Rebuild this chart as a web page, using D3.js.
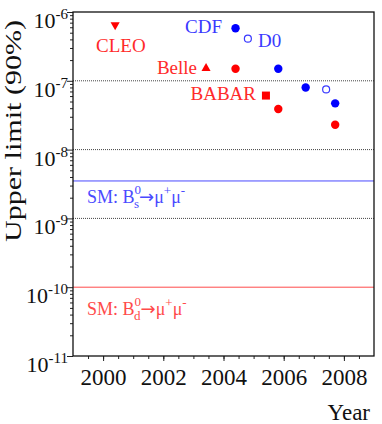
<!DOCTYPE html>
<html>
<head>
<meta charset="utf-8">
<style>
  body { margin: 0; background: #fff; }
  text { font-family: "Liberation Serif", "Times New Roman", serif; }
</style>
</head>
<body>
<svg id="chart" width="382" height="424"></svg>
<script src="https://d3js.org/d3.v7.min.js"></script>
<script>

// upper limits (90% CL)
var cdfBsYears = [2004.4, 2005.82, 2006.73, 2007.71];
var cdfBsLimits = [5.8e-7, 1.5e-7, 8.0e-8, 4.7e-8];
var d0Years = [2004.81, 2007.41];
var d0Limits = [4.1e-7, 7.5e-8];
var cdfBdYears = [2004.4, 2005.82, 2007.71];
var cdfBdLimits = [1.5e-7, 3.9e-8, 2.3e-8];
var cleoYear = [2000.4], cleoLimit = [6.5e-7];
var belleYear = [2003.42], belleLimit = [1.52e-7];
var babarYear = [2005.41], babarLimit = [6.1e-8];

var smBs = 3.5e-9, smBd = 1e-10;
var yearTicks = [2000, 2002, 2004, 2006, 2008];
var decadeTicks = [1e-11, 1e-10, 1e-9, 1e-8, 1e-7, 1e-6];
var gridDecades = [1e-9, 1e-8, 1e-7];

var svg = d3.select("#chart"),
    mLeft = 73, mRight = 374, mTop = 12, mBottom = 356;

var x = d3.scaleLinear().domain([1999, 2009]).range([mLeft, mRight]);
var y = d3.scaleLog().domain([1e-11, 1e-6]).range([mBottom, mTop]);

var RED = "#ff0000", BLUE = "#0000ff";

// dotted grid
svg.selectAll(".grid").data(gridDecades).enter().append("line")
    .attr("x1", mLeft).attr("x2", mRight)
    .attr("y1", function(d) { return y(d); }).attr("y2", function(d) { return y(d); })
    .attr("stroke", "#444").attr("stroke-width", 1).attr("stroke-dasharray", "1,1");

// SM lines
svg.append("line").attr("x1", mLeft).attr("x2", mRight)
    .attr("y1", y(smBs)).attr("y2", y(smBs))
    .attr("stroke", "#4a4aff").attr("stroke-width", 1);
svg.append("line").attr("x1", mLeft).attr("x2", mRight)
    .attr("y1", y(smBd)).attr("y2", y(smBd))
    .attr("stroke", "#ff4a4a").attr("stroke-width", 1);

// x axis: minor every half year, major on even years
var halfYears = d3.range(1999.5, 2009, 0.5);
svg.append("g").attr("transform", "translate(0," + mBottom + ")")
    .call(d3.axisBottom(x).tickValues(halfYears).tickSize(3).tickSizeOuter(0).tickFormat(""))
    .call(function(g) { g.select(".domain").remove(); g.selectAll("line").attr("stroke", "#222"); });
svg.append("g").attr("transform", "translate(0," + mBottom + ")")
    .call(d3.axisBottom(x).tickValues(yearTicks).tickSize(5).tickSizeOuter(0).tickFormat(d3.format("d")))
    .call(function(g) {
      g.select(".domain").remove();
      g.selectAll("line").attr("stroke", "#222");
      g.selectAll("text").attr("font-family", "Liberation Serif").attr("font-size", 23)
        .attr("fill", "#111").attr("y", 13).attr("dy", "0.71em");
    });

// y axis: minor log ticks + decade ticks
var minor = [];
decadeTicks.slice(0, -1).forEach(function(d) { for (var k = 2; k <= 9; k++) minor.push(d * k); });
svg.append("g").attr("transform", "translate(" + mLeft + ",0)")
    .call(d3.axisLeft(y).tickValues(minor).tickSize(3).tickSizeOuter(0).tickFormat(""))
    .call(function(g) { g.select(".domain").remove(); g.selectAll("line").attr("stroke", "#222"); });
svg.append("g").attr("transform", "translate(" + mLeft + ",0)")
    .call(d3.axisLeft(y).tickValues(decadeTicks).tickSize(6).tickSizeOuter(0).tickFormat(""))
    .call(function(g) { g.select(".domain").remove(); g.selectAll("line").attr("stroke", "#222"); });

// decade labels 10^n
svg.selectAll(".ylab").data(decadeTicks).enter().append("text")
    .attr("x", 68).attr("y", function(d) { return y(d) + 16; })
    .attr("text-anchor", "end").attr("fill", "#111").attr("font-size", 22)
    .each(function(d) {
      var t = d3.select(this);
      t.append("tspan").text("10");
      t.append("tspan").attr("font-size", 15).attr("dy", -9)
        .text("-" + Math.round(-Math.log10(d)));
    });

// frame
svg.append("rect").attr("x", mLeft).attr("y", mTop)
    .attr("width", mRight - mLeft).attr("height", mBottom - mTop)
    .attr("fill", "none").attr("stroke", "#111").attr("stroke-width", 1.3);

// axis titles
svg.append("text").attr("x", 370).attr("y", 420).attr("text-anchor", "end")
    .attr("font-size", 23).attr("fill", "#111").text("Year");
svg.append("text").attr("transform", "translate(21,131) rotate(-90)")
    .attr("text-anchor", "middle").attr("font-size", 24).attr("fill", "#111")
    .attr("textLength", 222).attr("lengthAdjust", "spacingAndGlyphs")
    .text("Upper limit (90%)");

// markers
function pts(xs, ys) { return xs.map(function(v, i) { return [v, ys[i]]; }); }

svg.selectAll(".bs").data(pts(cdfBsYears, cdfBsLimits)).enter().append("circle")
    .attr("cx", function(d) { return x(d[0]); }).attr("cy", function(d) { return y(d[1]); })
    .attr("r", 4.2).attr("fill", BLUE);
svg.selectAll(".bd").data(pts(cdfBdYears, cdfBdLimits)).enter().append("circle")
    .attr("cx", function(d) { return x(d[0]); }).attr("cy", function(d) { return y(d[1]); })
    .attr("r", 4.2).attr("fill", RED);
svg.selectAll(".d0").data(pts(d0Years, d0Limits)).enter().append("circle")
    .attr("cx", function(d) { return x(d[0]); }).attr("cy", function(d) { return y(d[1]); })
    .attr("r", 3.5).attr("fill", "none").attr("stroke", "#3a3aff").attr("stroke-width", 1.2);

var tri = d3.symbol().type(d3.symbolTriangle).size(36);
svg.selectAll(".cleo").data(pts(cleoYear, cleoLimit)).enter().append("path")
    .attr("d", tri)
    .attr("transform", function(d) { return "translate(" + x(d[0]) + "," + y(d[1]) + ") rotate(180)"; })
    .attr("fill", RED);
svg.selectAll(".belle").data(pts(belleYear, belleLimit)).enter().append("path")
    .attr("d", tri)
    .attr("transform", function(d) { return "translate(" + x(d[0]) + "," + y(d[1]) + ")"; })
    .attr("fill", RED);
svg.selectAll(".babar").data(pts(babarYear, babarLimit)).enter().append("rect")
    .attr("x", function(d) { return x(d[0]) - 4; }).attr("y", function(d) { return y(d[1]) - 4; })
    .attr("width", 8).attr("height", 8).attr("fill", RED);

// experiment labels
function label(txt, xx, yy, col) {
  svg.append("text").attr("x", xx).attr("y", yy).attr("font-size", 19)
      .attr("fill", col).text(txt);
}
label("CLEO", 96, 52, "#ff2a2a");
label("CDF", 185, 33, "#3a3aff");
label("D0", 258, 47, "#3a3aff");
svg.append("text").attr("x", 197).attr("y", 74).attr("text-anchor", "end")
    .attr("font-size", 19).attr("fill", "#ff2a2a").text("Belle");
svg.append("text").attr("x", 256).attr("y", 100).attr("text-anchor", "end")
    .attr("font-size", 19).attr("fill", "#ff2a2a").text("BABAR");

// SM labels
function smLabel(sub, yy, col) {
  var t = svg.append("text").attr("x", 87).attr("y", yy).attr("font-size", 18).attr("fill", col);
  t.append("tspan").text("SM: B");
  t.append("tspan").attr("font-size", 13).attr("dy", -9).text("0");
  t.append("tspan").attr("font-size", 13).attr("dx", -7).attr("dy", 14).text(sub);
  t.append("tspan").attr("dy", -5).attr("font-family", "DejaVu Sans").attr("font-size", 18).text("\u2192");
  t.append("tspan").text("\u03bc");
  t.append("tspan").attr("font-size", 13).attr("dy", -8).text("+");
  t.append("tspan").attr("dy", 8).text("\u03bc");
  t.append("tspan").attr("font-size", 13).attr("dy", -8).text("-");
}
smLabel("s", 203, "#4a4aff");
smLabel("d", 315, "#ff4a4a");

</script>
</body>
</html>
